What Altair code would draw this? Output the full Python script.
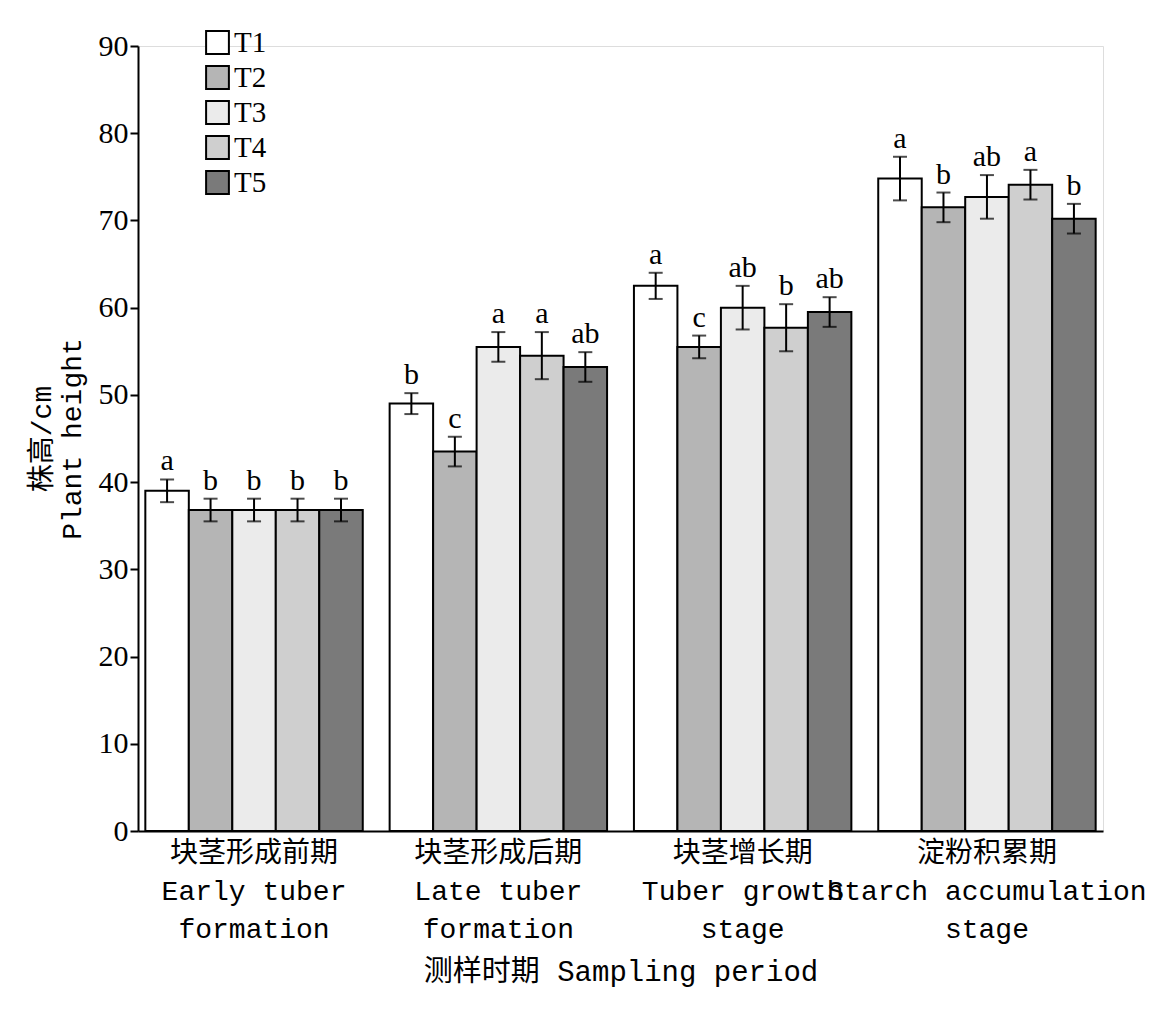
import altair as alt
import pandas as pd

periods = ["块茎形成前期|Early tuber|formation", "块茎形成后期|Late tuber|formation",
           "块茎增长期|Tuber growth|stage", "淀粉积累期|Starch accumulation|stage"]
treatments = ["T1", "T2", "T3", "T4", "T5"]
heights = [
    [39.0, 36.8, 36.8, 36.8, 36.8],
    [49.0, 43.5, 55.5, 54.5, 53.2],
    [62.5, 55.5, 60.0, 57.7, 59.5],
    [74.8, 71.5, 72.7, 74.1, 70.2],
]
errors = [
    [1.3, 1.3, 1.3, 1.3, 1.3],
    [1.2, 1.7, 1.7, 2.7, 1.7],
    [1.5, 1.3, 2.5, 2.7, 1.7],
    [2.5, 1.7, 2.5, 1.7, 1.7],
]
letters = [
    ["a", "b", "b", "b", "b"],
    ["b", "c", "a", "a", "ab"],
    ["a", "c", "ab", "b", "ab"],
    ["a", "b", "ab", "a", "b"],
]
fills = ["#ffffff", "#b5b5b5", "#ebebeb", "#cfcfcf", "#7a7a7a"]

rows = []
for i, p in enumerate(periods):
    for j, t in enumerate(treatments):
        h, e = heights[i][j], errors[i][j]
        rows.append({"period": p, "treat": t, "h": h, "lo": h - e, "hi": h + e, "lab": letters[i][j]})
df = pd.DataFrame(rows)

font = "Liberation Serif, Noto Sans CJK SC"
mono = "Liberation Mono, Noto Sans CJK SC"

x = alt.X("period:N", sort=periods, title="测样时期 Sampling period",
          scale=alt.Scale(paddingInner=0.11, paddingOuter=0.03),
          axis=alt.Axis(labelExpr="split(datum.label, '|')", labelAngle=0, labelFont=mono,
                        labelFontSize=28, labelColor="black", labelLineHeight=38, labelPadding=8,
                        labelLimit=0,
                        titleFont=mono, titleFontSize=29, titleFontWeight="normal", titleColor="black",
                        titlePadding=14, domainColor="black", domainWidth=2, ticks=False))
xo = alt.XOffset("treat:N", sort=treatments, scale=alt.Scale(paddingInner=0, paddingOuter=0))

base = alt.Chart(df).encode(x=x, xOffset=xo)

bars = base.mark_bar(stroke="black", strokeWidth=2).encode(
    y=alt.Y("h:Q", scale=alt.Scale(domain=[0, 90]), title=["株高/cm", "Plant height"],
            axis=alt.Axis(values=list(range(0, 91, 10)), grid=False, labelFont=font, labelFontSize=30,
                          labelColor="black", titleFont=mono, titleFontSize=28, titleFontWeight="normal",
                          titleColor="black", domainColor="black", domainWidth=2, tickColor="black",
                          tickWidth=2, tickSize=8, titlePadding=12)),
    fill=alt.Fill("treat:N", scale=alt.Scale(domain=treatments, range=fills),
                  legend=alt.Legend(title=None, orient="none", legendX=65, legendY=-18,
                                    symbolType="square", symbolSize=520, symbolStrokeColor="black",
                                    symbolStrokeWidth=2, labelFont=font, labelFontSize=29,
                                    labelColor="black", rowPadding=4, labelOffset=2)),
)
err = base.mark_rule(color="black", strokeWidth=2).encode(y="lo:Q", y2="hi:Q")
cap_hi = base.mark_tick(color="black", thickness=2, size=14).encode(y="hi:Q")
cap_lo = base.mark_tick(color="black", thickness=2, size=14).encode(y="lo:Q")
txt = base.mark_text(font=font, fontSize=30, dy=-18, color="black").encode(y="hi:Q", text="lab:N")

chart = alt.layer(bars, err, cap_hi, cap_lo, txt).properties(
    width=965, height=785, padding={"left": 20, "top": 20, "right": 5, "bottom": 5}
).configure_view(strokeWidth=0).configure(background="white")

chart.save("out.html", embed_options={"renderer": "svg", "actions": False})
